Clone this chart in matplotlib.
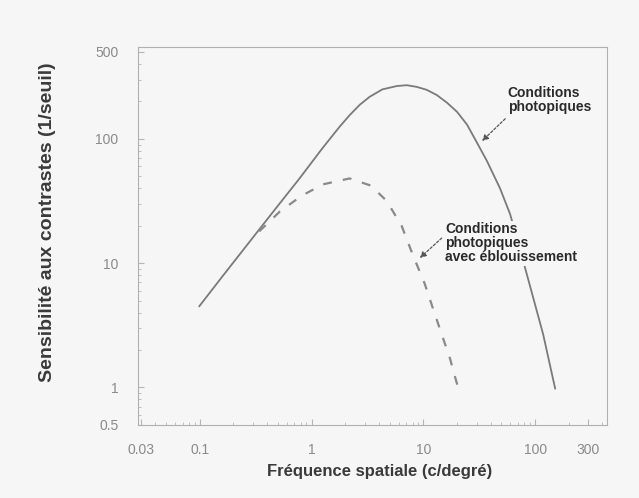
import numpy as np
import matplotlib
matplotlib.use('Agg')
import matplotlib.pyplot as plt
from matplotlib.ticker import FixedLocator, NullFormatter, LogLocator

plt.rcParams['font.family'] = ['Liberation Sans', 'DejaVu Sans']

# valeurs
freq_photo = [0.099, 0.159, 0.278, 0.447, 0.78, 1.25, 1.78, 2.19, 2.7, 3.31, 4.3, 5.8, 7.1, 8.7,
              10.7, 13.2, 16.3, 20, 24.6, 30, 37, 48.5, 59.7, 78, 118, 151]
sens_photo = [4.5, 7.8, 14.8, 25.5, 48, 84, 125, 155, 188, 218, 250, 266, 270, 262,
              248, 225, 195, 165, 130, 94, 66.5, 40, 24.8, 10.5, 2.67, 0.98]

freq_eblou = [0.34, 0.52, 0.81, 1.26, 2.19, 3.4, 4.7, 6.4, 8.0, 10.3, 12.2, 14.6, 17.3, 20.4]
sens_eblou = [18, 26, 34.7, 43, 48, 42, 31.6, 19.9, 11.8, 6.8, 4.3, 2.67, 1.71, 1.0]

xticks = [0.03, 0.1, 1, 10, 100, 300]
xlabels = ['0.03', '0.1', '1', '10', '100', '300']
yticks = [0.5, 1, 10, 100, 500]
ylabels = ['0.5', '1', '10', '100', '500']

fig = plt.figure(figsize=(6.39, 4.98), dpi=100, facecolor='#f6f6f6')
ax = fig.add_axes([0.216, 0.147, 0.734, 0.759])
ax.set_facecolor('#f6f6f6')
ax.set_xscale('log')
ax.set_yscale('log')
ax.set_xlim(0.028, 440)
ax.set_ylim(0.5, 550)

ax.plot(freq_photo, sens_photo, color='#7a7a7a', linewidth=1.3, zorder=2)
ax.plot(freq_eblou, sens_eblou, color='#8a8a8a', linewidth=1.6, dashes=(4, 5), zorder=2)

for s in ax.spines.values():
    s.set_color('#b0b0b0')
    s.set_linewidth(0.8)
    s.set_linestyle((0, (1, 1)))

ax.xaxis.set_major_locator(FixedLocator(xticks))
ax.set_xticklabels(xlabels)
ax.yaxis.set_major_locator(FixedLocator(yticks))
ax.set_yticklabels(ylabels)
ax.xaxis.set_minor_locator(LogLocator(subs=np.arange(2, 10)))
ax.yaxis.set_minor_locator(LogLocator(subs=np.arange(2, 10)))
ax.xaxis.set_minor_formatter(NullFormatter())
ax.yaxis.set_minor_formatter(NullFormatter())
ax.tick_params(which='both', direction='in', colors='#b5b5b5', labelcolor='#8a8a8a', labelsize=10)
ax.tick_params(which='major', length=4)
ax.tick_params(which='minor', length=2.5)
ax.tick_params(axis='x', pad=13)
ax.tick_params(axis='y', pad=14)

ax.set_xlabel('Fréquence spatiale (c/degré)', fontsize=12, fontweight='bold', color='#3a3a3a')
ax.set_ylabel('Sensibilité aux contrastes (1/seuil)', fontsize=14, fontweight='bold', color='#3a3a3a')
ax.xaxis.set_label_coords(0.516, -0.103)
ax.yaxis.set_label_coords(-0.175, 0.537)

arrow = dict(arrowstyle='-|>', color='#555555', linestyle=(0, (2, 1.5)), lw=0.9,
             shrinkA=0, shrinkB=0, mutation_scale=9)
ax.annotate('', xy=(33.5, 96), xytext=(54, 145), arrowprops=arrow)
ax.text(57, 158, 'Conditions\nphotopiques', fontsize=10, fontweight='bold', color='#2a2a2a',
        ha='left', va='bottom', linespacing=1.05)
ax.annotate('', xy=(9.3, 11), xytext=(14.6, 15.9), arrowprops=arrow)
ax.text(15.6, 9.8, 'Conditions\nphotopiques\navec éblouissement', fontsize=10, fontweight='bold',
        color='#2a2a2a', ha='left', va='bottom', linespacing=1.0, zorder=3,
        bbox=dict(facecolor='#f6f6f6', edgecolor='none', pad=1))

plt.savefig('out.png', dpi=100, facecolor=fig.get_facecolor())
